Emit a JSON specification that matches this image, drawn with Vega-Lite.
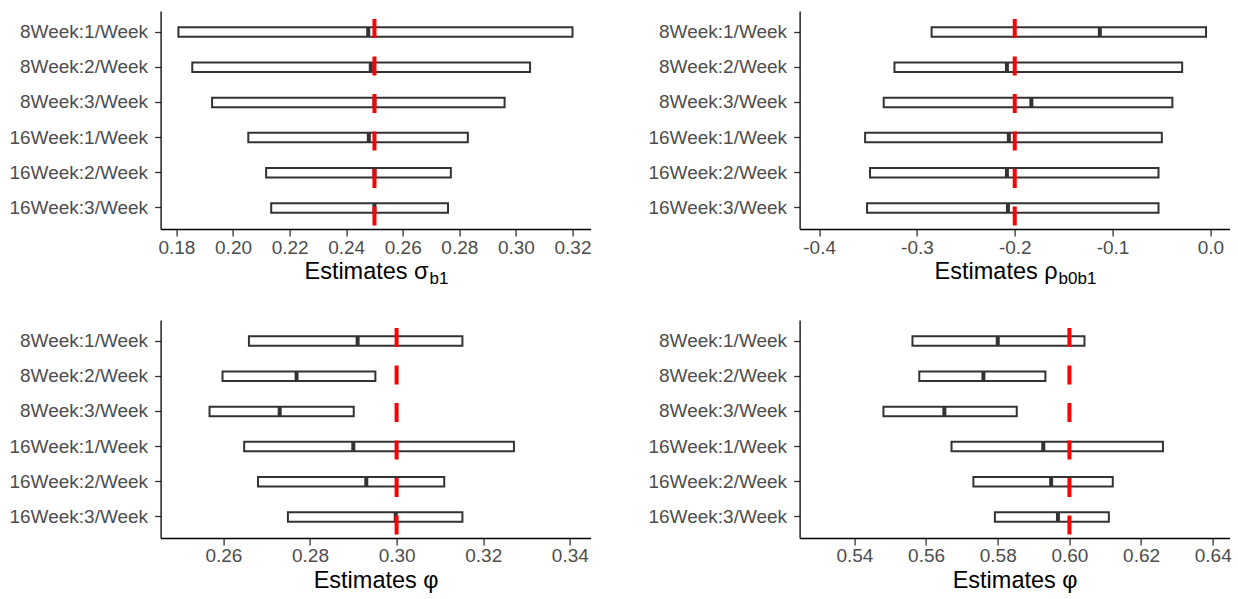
{
  "$schema": "https://vega.github.io/schema/vega-lite/v6.json",
  "padding": {"left": 8.6, "top": 9, "right": 5, "bottom": 5},
  "columns": 2,
  "spacing": {"column": 209, "row": 91},
  "bounds": "flush",
  "datasets": {
    "est": [
      {"panel": "sigma", "design": "8Week:1/Week", "low": 0.1807, "mid": 0.2478, "high": 0.3200},
      {"panel": "sigma", "design": "8Week:2/Week", "low": 0.1856, "mid": 0.2487, "high": 0.3050},
      {"panel": "sigma", "design": "8Week:3/Week", "low": 0.1926, "mid": 0.2500, "high": 0.2960},
      {"panel": "sigma", "design": "16Week:1/Week", "low": 0.2054, "mid": 0.2480, "high": 0.2830},
      {"panel": "sigma", "design": "16Week:2/Week", "low": 0.2117, "mid": 0.2500, "high": 0.2770},
      {"panel": "sigma", "design": "16Week:3/Week", "low": 0.2135, "mid": 0.2500, "high": 0.2760},
      {"panel": "rho", "design": "8Week:1/Week", "low": -0.285, "mid": -0.113, "high": -0.0044},
      {"panel": "rho", "design": "8Week:2/Week", "low": -0.323, "mid": -0.208, "high": -0.0288},
      {"panel": "rho", "design": "8Week:3/Week", "low": -0.334, "mid": -0.183, "high": -0.0388},
      {"panel": "rho", "design": "16Week:1/Week", "low": -0.353, "mid": -0.206, "high": -0.0496},
      {"panel": "rho", "design": "16Week:2/Week", "low": -0.348, "mid": -0.208, "high": -0.053},
      {"panel": "rho", "design": "16Week:3/Week", "low": -0.351, "mid": -0.207, "high": -0.053},
      {"panel": "phi1", "design": "8Week:1/Week", "low": 0.2659, "mid": 0.2910, "high": 0.3152},
      {"panel": "phi1", "design": "8Week:2/Week", "low": 0.2598, "mid": 0.2769, "high": 0.2951},
      {"panel": "phi1", "design": "8Week:3/Week", "low": 0.2568, "mid": 0.2730, "high": 0.2901},
      {"panel": "phi1", "design": "16Week:1/Week", "low": 0.2648, "mid": 0.2900, "high": 0.3271},
      {"panel": "phi1", "design": "16Week:2/Week", "low": 0.2680, "mid": 0.2930, "high": 0.3110},
      {"panel": "phi1", "design": "16Week:3/Week", "low": 0.2749, "mid": 0.2998, "high": 0.3152},
      {"panel": "phi2", "design": "8Week:1/Week", "low": 0.5562, "mid": 0.5800, "high": 0.6042},
      {"panel": "phi2", "design": "8Week:2/Week", "low": 0.5581, "mid": 0.5760, "high": 0.5933},
      {"panel": "phi2", "design": "8Week:3/Week", "low": 0.5481, "mid": 0.5651, "high": 0.5853},
      {"panel": "phi2", "design": "16Week:1/Week", "low": 0.5671, "mid": 0.5927, "high": 0.6261},
      {"panel": "phi2", "design": "16Week:2/Week", "low": 0.5732, "mid": 0.5949, "high": 0.6121},
      {"panel": "phi2", "design": "16Week:3/Week", "low": 0.5792, "mid": 0.5968, "high": 0.6110}
    ],
    "truths": [
      {"panel": "sigma", "truth": 0.25},
      {"panel": "rho", "truth": -0.2},
      {"panel": "phi1", "truth": 0.3},
      {"panel": "phi2", "truth": 0.6}
    ]
  },
  "concat": [
    {
      "width": 430, "height": 218,
      "data": {"name": "est"},
      "transform": [{"filter": "datum.panel === 'sigma'"}],
      "layer": [
        {
          "mark": {"type": "bar", "size": 9.5, "fill": "white", "stroke": "#333333", "strokeWidth": 2},
          "encoding": {
            "y": {"field": "design", "type": "nominal", "sort": ["8Week:1/Week","8Week:2/Week","8Week:3/Week","16Week:1/Week","16Week:2/Week","16Week:3/Week"], "scale": {"type": "band", "paddingInner": 0, "paddingOuter": 0.1}, "axis": {"title": null}},
            "x": {"field": "low", "type": "quantitative", "scale": {"domain": [0.1744, 0.3264], "nice": false, "zero": false},
                  "axis": {"values": [0.18,0.20,0.22,0.24,0.26,0.28,0.30,0.32], "format": ".2f", "title": "Estimates σ", "titleAlign": "right", "titleX": 267.5, "titleY": 49, "titleBaseline": "alphabetic"}},
            "x2": {"field": "high"}
          }
        },
        {
          "mark": {"type": "tick", "thickness": 4, "size": 9.5, "color": "#333333", "opacity": 1},
          "encoding": {
            "y": {"field": "design", "type": "nominal", "sort": ["8Week:1/Week","8Week:2/Week","8Week:3/Week","16Week:1/Week","16Week:2/Week","16Week:3/Week"], "scale": {"type": "band", "paddingInner": 0, "paddingOuter": 0.1}},
            "x": {"field": "mid", "type": "quantitative", "axis": null}
          }
        },
        {
          "data": {"name": "truths"},
          "transform": [{"filter": "datum.panel === 'sigma'"}],
          "mark": {"type": "rule", "color": "#FF0000", "strokeWidth": 4, "strokeDash": [19, 18.5], "strokeDashOffset": 29.5},
          "encoding": {
            "x": {"field": "truth", "type": "quantitative",
                  "axis": {"orient": "bottom", "title": "b1", "labels": false, "ticks": false, "domain": false, "titleFontSize": 17, "titleAlign": "left", "titleX": 268.5, "titleY": 54, "titleBaseline": "alphabetic"}}
          }
        }
      ],
      "resolve": {"axis": {"x": "independent"}}
    },
    {
      "width": 430, "height": 218,
      "data": {"name": "est"},
      "transform": [{"filter": "datum.panel === 'rho'"}],
      "layer": [
        {
          "mark": {"type": "bar", "size": 9.5, "fill": "white", "stroke": "#333333", "strokeWidth": 2},
          "encoding": {
            "y": {"field": "design", "type": "nominal", "sort": ["8Week:1/Week","8Week:2/Week","8Week:3/Week","16Week:1/Week","16Week:2/Week","16Week:3/Week"], "scale": {"type": "band", "paddingInner": 0, "paddingOuter": 0.1}, "axis": {"title": null}},
            "x": {"field": "low", "type": "quantitative", "scale": {"domain": [-0.42, 0.0197], "nice": false, "zero": false},
                  "axis": {"values": [-0.4,-0.3,-0.2,-0.1,0], "labelExpr": "replace(format(datum.value, '.1f'), '\u2212', '-')", "title": "Estimates ρ", "titleAlign": "right", "titleX": 257.5, "titleY": 49, "titleBaseline": "alphabetic"}},
            "x2": {"field": "high"}
          }
        },
        {
          "mark": {"type": "tick", "thickness": 4, "size": 9.5, "color": "#333333", "opacity": 1},
          "encoding": {
            "y": {"field": "design", "type": "nominal", "sort": ["8Week:1/Week","8Week:2/Week","8Week:3/Week","16Week:1/Week","16Week:2/Week","16Week:3/Week"], "scale": {"type": "band", "paddingInner": 0, "paddingOuter": 0.1}},
            "x": {"field": "mid", "type": "quantitative", "axis": null}
          }
        },
        {
          "data": {"name": "truths"},
          "transform": [{"filter": "datum.panel === 'rho'"}],
          "mark": {"type": "rule", "color": "#FF0000", "strokeWidth": 4, "strokeDash": [19, 18.5], "strokeDashOffset": 29.5},
          "encoding": {
            "x": {"field": "truth", "type": "quantitative",
                  "axis": {"orient": "bottom", "title": "b0b1", "labels": false, "ticks": false, "domain": false, "titleFontSize": 17, "titleAlign": "left", "titleX": 258.5, "titleY": 54, "titleBaseline": "alphabetic"}}
          }
        }
      ],
      "resolve": {"axis": {"x": "independent"}}
    },
    {
      "width": 430, "height": 218,
      "data": {"name": "est"},
      "transform": [{"filter": "datum.panel === 'phi1'"}],
      "layer": [
        {
          "mark": {"type": "bar", "size": 9.5, "fill": "white", "stroke": "#333333", "strokeWidth": 2},
          "encoding": {
            "y": {"field": "design", "type": "nominal", "sort": ["8Week:1/Week","8Week:2/Week","8Week:3/Week","16Week:1/Week","16Week:2/Week","16Week:3/Week"], "scale": {"type": "band", "paddingInner": 0, "paddingOuter": 0.1}, "axis": {"title": null}},
            "x": {"field": "low", "type": "quantitative", "scale": {"domain": [0.2455, 0.3448], "nice": false, "zero": false},
                  "axis": {"values": [0.26,0.28,0.30,0.32,0.34], "format": ".2f", "title": "Estimates φ", "titleAlign": "center", "titleX": 215, "titleY": 50, "titleBaseline": "alphabetic"}},
            "x2": {"field": "high"}
          }
        },
        {
          "mark": {"type": "tick", "thickness": 4, "size": 9.5, "color": "#333333", "opacity": 1},
          "encoding": {
            "y": {"field": "design", "type": "nominal", "sort": ["8Week:1/Week","8Week:2/Week","8Week:3/Week","16Week:1/Week","16Week:2/Week","16Week:3/Week"], "scale": {"type": "band", "paddingInner": 0, "paddingOuter": 0.1}},
            "x": {"field": "mid", "type": "quantitative", "axis": null}
          }
        },
        {
          "data": {"name": "truths"},
          "transform": [{"filter": "datum.panel === 'phi1'"}],
          "mark": {"type": "rule", "color": "#FF0000", "strokeWidth": 4, "strokeDash": [19, 18.5], "strokeDashOffset": 29.5},
          "encoding": {
            "x": {"field": "truth", "type": "quantitative", "axis": null}
          }
        }
      ],
      "resolve": {"axis": {"x": "independent"}}
    },
    {
      "width": 430, "height": 218,
      "data": {"name": "est"},
      "transform": [{"filter": "datum.panel === 'phi2'"}],
      "layer": [
        {
          "mark": {"type": "bar", "size": 9.5, "fill": "white", "stroke": "#333333", "strokeWidth": 2},
          "encoding": {
            "y": {"field": "design", "type": "nominal", "sort": ["8Week:1/Week","8Week:2/Week","8Week:3/Week","16Week:1/Week","16Week:2/Week","16Week:3/Week"], "scale": {"type": "band", "paddingInner": 0, "paddingOuter": 0.1}, "axis": {"title": null}},
            "x": {"field": "low", "type": "quantitative", "scale": {"domain": [0.5247, 0.6447], "nice": false, "zero": false},
                  "axis": {"values": [0.54,0.56,0.58,0.60,0.62,0.64], "format": ".2f", "title": "Estimates φ", "titleAlign": "center", "titleX": 215, "titleY": 50, "titleBaseline": "alphabetic"}},
            "x2": {"field": "high"}
          }
        },
        {
          "mark": {"type": "tick", "thickness": 4, "size": 9.5, "color": "#333333", "opacity": 1},
          "encoding": {
            "y": {"field": "design", "type": "nominal", "sort": ["8Week:1/Week","8Week:2/Week","8Week:3/Week","16Week:1/Week","16Week:2/Week","16Week:3/Week"], "scale": {"type": "band", "paddingInner": 0, "paddingOuter": 0.1}},
            "x": {"field": "mid", "type": "quantitative", "axis": null}
          }
        },
        {
          "data": {"name": "truths"},
          "transform": [{"filter": "datum.panel === 'phi2'"}],
          "mark": {"type": "rule", "color": "#FF0000", "strokeWidth": 4, "strokeDash": [19, 18.5], "strokeDashOffset": 29.5},
          "encoding": {
            "x": {"field": "truth", "type": "quantitative", "axis": null}
          }
        }
      ],
      "resolve": {"axis": {"x": "independent"}}
    }
  ],
  "config": {
    "view": {"stroke": null},
    "font": "Liberation Sans",
    "axis": {
      "grid": false,
      "domainColor": "#000000",
      "domainWidth": 1.3,
      "tickColor": "#333333",
      "tickWidth": 1.3,
      "tickSize": 7,
      "labelColor": "#4D4D4D",
      "labelFont": "Liberation Sans",
      "labelFontSize": 19,
      "titleFont": "Liberation Sans",
      "titleFontSize": 23.5,
      "titleFontWeight": "normal",
      "titleColor": "#000000",
      "labelOverlap": false
    },
    "axisX": {"labelPadding": 2, "labelFlush": false},
    "axisY": {"labelPadding": 7, "tickSize": 6}
  }
}
